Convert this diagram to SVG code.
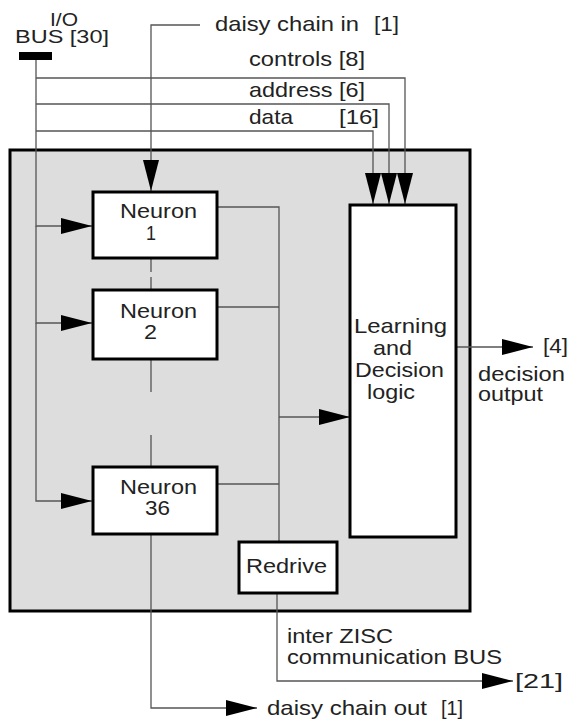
<svg xmlns="http://www.w3.org/2000/svg" width="570" height="723" viewBox="0 0 570 723">
<defs>
<marker id="ah" markerUnits="userSpaceOnUse" markerWidth="31" markerHeight="16" refX="31" refY="8" orient="auto">
<path d="M0,0 L31,8 L0,16 Z" fill="#000"/>
</marker>
<style>
text{font-family:"Liberation Sans",Arial,sans-serif;font-size:21px;fill:#222}
.box{fill:#fff;stroke:#000;stroke-width:3}
.c{fill:none;stroke:#555;stroke-width:1.3}
.a{marker-end:url(#ah)}
</style>
</defs>
<rect width="570" height="723" fill="#fff"/>
<g id="chip">
<rect x="10" y="150" width="460" height="461" fill="#dddddd" stroke="#000" stroke-width="3"/>
</g>
<g id="connectors">
<rect x="19" y="52" width="33" height="8" fill="#000"/>
<path class="c a" d="M36,60 V226 H92"/>
<path class="c a" d="M36,226 V323 H92"/>
<path class="c a" d="M36,323 V501 H92"/>
<path class="c a" d="M36,78 H405 V204"/>
<path class="c a" d="M36,104 H389 V204"/>
<path class="c a" d="M36,131 H373 V204"/>
<path class="c a" d="M200,25 H151 V191"/>
<path class="c" d="M151,259 V272 M151,277 V290"/>
<path class="c" d="M151,360 V392 M151,435 V467"/>
<path class="c" d="M217,207 H279 V542"/>
<path class="c" d="M217,307 H279"/>
<path class="c" d="M217,484 H279"/>
<path class="c a" d="M279,417 H350"/>
<path class="c a" d="M456,347 H533"/>
<path class="c a" d="M277,593 V681 H513"/>
<path class="c a" d="M151,534 V708 H257"/>
</g>
<g id="neuron1">
<rect class="box" x="93" y="192" width="124" height="66"/>
<text x="120" y="218" textLength="77" lengthAdjust="spacingAndGlyphs">Neuron</text>
<text x="146" y="240" textLength="10" lengthAdjust="spacingAndGlyphs">1</text>
</g>
<g id="neuron2">
<rect class="box" x="93" y="290" width="124" height="69"/>
<text x="120" y="318" textLength="77" lengthAdjust="spacingAndGlyphs">Neuron</text>
<text x="144" y="339" textLength="13" lengthAdjust="spacingAndGlyphs">2</text>
</g>
<g id="neuron36">
<rect class="box" x="93" y="467" width="124" height="67"/>
<text x="120" y="494" textLength="77" lengthAdjust="spacingAndGlyphs">Neuron</text>
<text x="145" y="515" textLength="25" lengthAdjust="spacingAndGlyphs">36</text>
</g>
<g id="learning">
<rect class="box" x="350" y="205" width="106" height="332" stroke-width="2.5"/>
<text x="354" y="333" textLength="93" lengthAdjust="spacingAndGlyphs">Learning</text>
<text x="373" y="355" textLength="39" lengthAdjust="spacingAndGlyphs">and</text>
<text x="355" y="377" textLength="89" lengthAdjust="spacingAndGlyphs">Decision</text>
<text x="367" y="399" textLength="48" lengthAdjust="spacingAndGlyphs">logic</text>
</g>
<g id="redrive">
<rect class="box" x="239" y="542" width="98" height="51"/>
<text x="246" y="573" textLength="81" lengthAdjust="spacingAndGlyphs">Redrive</text>
</g>
<g id="labels">
<text x="50" y="26" textLength="28" lengthAdjust="spacingAndGlyphs" style="font-size:18px">I/O</text>
<text x="15" y="43" textLength="94" lengthAdjust="spacingAndGlyphs" style="font-size:19px">BUS [30]</text>
<text x="215" y="31" textLength="144" lengthAdjust="spacingAndGlyphs">daisy chain in</text>
<text x="374" y="31" textLength="25" lengthAdjust="spacingAndGlyphs">[1]</text>
<text x="249" y="66" textLength="116" lengthAdjust="spacingAndGlyphs">controls [8]</text>
<text x="249" y="97" textLength="116" lengthAdjust="spacingAndGlyphs">address [6]</text>
<text x="249" y="124" textLength="44" lengthAdjust="spacingAndGlyphs">data</text>
<text x="339" y="124" textLength="40" lengthAdjust="spacingAndGlyphs">[16]</text>
<text x="543" y="353" textLength="25" lengthAdjust="spacingAndGlyphs">[4]</text>
<text x="478" y="381" textLength="87" lengthAdjust="spacingAndGlyphs" style="font-size:20px">decision</text>
<text x="478" y="401" textLength="65" lengthAdjust="spacingAndGlyphs" style="font-size:20px">output</text>
<text x="287" y="643" textLength="106" lengthAdjust="spacingAndGlyphs">inter ZISC</text>
<text x="287" y="664" textLength="215" lengthAdjust="spacingAndGlyphs">communication BUS</text>
<text x="515" y="688" textLength="48" lengthAdjust="spacingAndGlyphs">[21]</text>
<text x="267" y="715" textLength="160" lengthAdjust="spacingAndGlyphs">daisy chain out</text>
<text x="441" y="715" textLength="22" lengthAdjust="spacingAndGlyphs">[1]</text>
</g>
</svg>
